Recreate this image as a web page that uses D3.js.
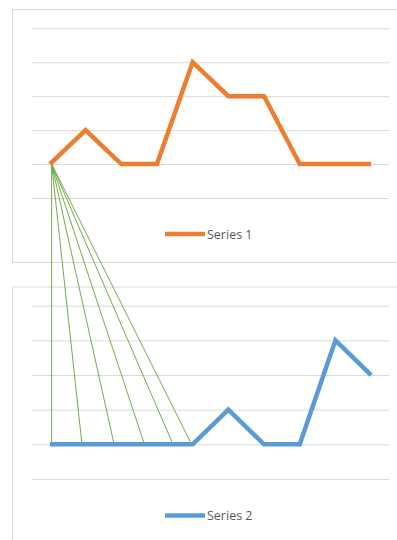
<!DOCTYPE html>
<html>
<head>
<meta charset="utf-8">
<script src="https://cdn.jsdelivr.net/npm/d3@7"></script>
<style>
  html, body { margin: 0; padding: 0; background: #fff; }
  svg { display: block; }
</style>
</head>
<body>
<svg id="chart" width="397" height="540"></svg>
<script>
// Ten categories shared by both line charts
const categories = ["1", "2", "3", "4", "5", "6", "7", "8", "9", "10"];
const series1 = [1, 2, 1, 1, 4, 3, 3, 1, 1, 1];
const series2 = [1, 1, 1, 1, 1, 2, 1, 1, 4, 3];
const valueTicks = [0, 1, 2, 3, 4, 5];
const seriesNames = ["Series 1", "Series 2"];
// Connector fan: from the first point of Series 1 down to positions
// (in category-index units) along the baseline of Series 2
const fanSource = 0.05;
const fanTargets = [0.05, 0.9, 1.8, 2.65, 3.45, 3.97];

const svg = d3.select("#chart");
const W = 397;

const x = d3.scalePoint().domain(categories).range([32, 389]).padding(0.5);
const step = x.step();
// fractional category index -> pixel
const xi = i => x(categories[0]) + i * step;

const yTop = d3.scaleLinear().domain([0, 5]).range([198, 28.3]);
const yBot = d3.scaleLinear().domain([0, 5]).range([479, 305.7]);

const panels = [
  { top: 9, bottom: 262, y: yTop, data: series1, color: "#ed7d31", name: seriesNames[0], legendY: 234 },
  { top: 286.5, bottom: 560, y: yBot, data: series2, color: "#5b9bd5", name: seriesNames[1], legendY: 515.5 }
];

panels.forEach(p => {
  const g = svg.append("g");
  // chart area frame
  g.append("rect")
    .attr("x", 12.5).attr("y", p.top + 0.5)
    .attr("width", W).attr("height", p.bottom - p.top)
    .attr("fill", "#fff").attr("stroke", "#d9d9d9").attr("stroke-width", 1);

  // horizontal gridlines
  const axis = d3.axisLeft(p.y).tickValues(valueTicks).tickSize(-(389 - 32)).tickFormat("");
  const ag = g.append("g").attr("transform", "translate(32,0)").call(axis);
  ag.select(".domain").remove();
  ag.selectAll(".tick line").attr("stroke", "#d9d9d9").attr("stroke-width", 1);
});

// green connector fan (drawn beneath the series lines)
const fan = svg.append("g");
fanTargets.forEach(t => {
  fan.append("line")
    .attr("x1", xi(fanSource)).attr("y1", yTop(series1[0]))
    .attr("x2", xi(t)).attr("y2", yBot(series2[0]))
    .attr("stroke", "#70ad47").attr("stroke-width", 1);
});

panels.forEach(p => {
  const line = d3.line()
    .x((d, i) => x(categories[i]))
    .y(d => p.y(d));
  svg.append("path")
    .datum(p.data)
    .attr("d", line)
    .attr("fill", "none")
    .attr("stroke", p.color)
    .attr("stroke-width", 4.5)
    .attr("stroke-linejoin", "miter")
    .attr("stroke-linecap", "butt");

  // legend
  const lg = svg.append("g");
  lg.append("line")
    .attr("x1", 165).attr("x2", 205)
    .attr("y1", p.legendY).attr("y2", p.legendY)
    .attr("stroke", p.color).attr("stroke-width", 4.5);
  lg.append("text")
    .attr("x", 207).attr("y", p.legendY + 4.8)
    .attr("font-family", "'Open Sans', sans-serif")
    .attr("font-size", 12.5)
    .attr("fill", "#595959")
    .text(p.name);
});
</script>
</body>
</html>
